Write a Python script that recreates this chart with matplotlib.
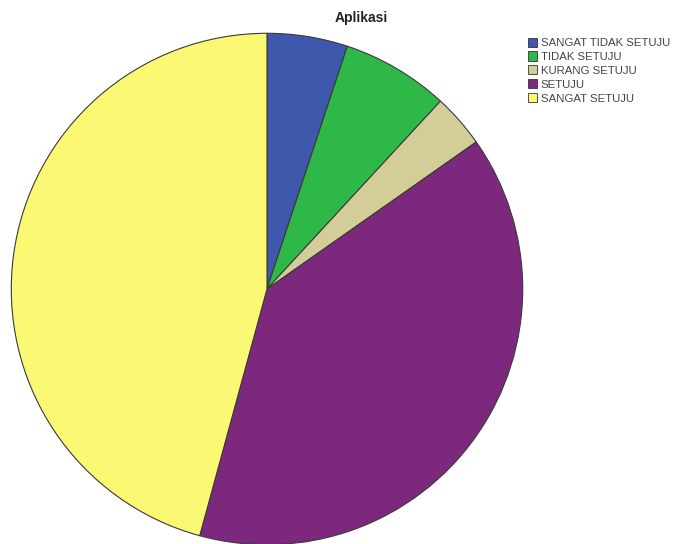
import matplotlib.pyplot as plt
from matplotlib.patches import Patch

plt.rcParams['font.family'] = ['Liberation Sans', 'DejaVu Sans']

categories = ['SANGAT TIDAK SETUJU', 'TIDAK SETUJU', 'KURANG SETUJU',
              'SETUJU', 'SANGAT SETUJU']
counts = [3, 4, 2, 23, 27]
colors = ['#3e58ac', '#2eb848', '#d3ce97', '#7c287d', '#fbf873']

fig = plt.figure(figsize=(6.73, 5.44), dpi=100)
fig.patch.set_facecolor('white')

# pie area: centre ~(267, 289) px, radius ~257 px
ax = fig.add_axes([10 / 673, -2 / 544, 514 / 673, 514 / 544])
ax.pie(counts, colors=colors, startangle=90, counterclock=False,
       wedgeprops=dict(edgecolor='#3a3a3a', linewidth=0.8))
ax.set_aspect('equal')
ax.set_xlim(-1.005, 1.005)
ax.set_ylim(-1.005, 1.005)
ax.axis('off')

fig.text(361 / 673, 1 - 18 / 544, 'Aplikasi', ha='center', va='center',
         fontsize=10, fontweight='bold', color='#222222')

handles = [Patch(facecolor=c, edgecolor='#333333', linewidth=0.6) for c in colors]
fig.legend(handles, categories, loc='upper left',
           bbox_to_anchor=(523 / 673, 1 - 33 / 544), frameon=False,
           fontsize=8.2, handlelength=0.85, handleheight=0.85,
           handletextpad=0.3, labelspacing=0.3, borderaxespad=0,
           labelcolor='#444444')

fig.savefig('out.png', dpi=100)
plt.close(fig)
